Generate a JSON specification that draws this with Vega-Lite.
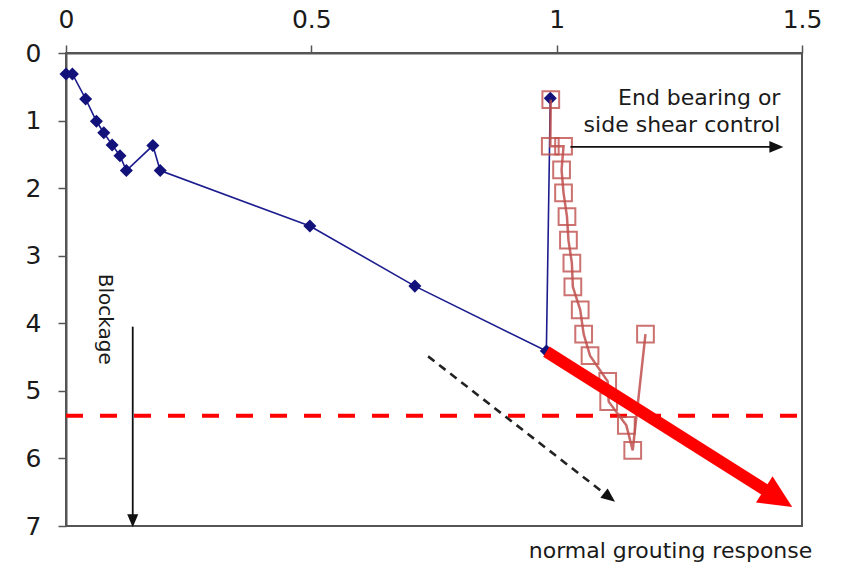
{
  "$schema": "https://vega.github.io/schema/vega-lite/v6.json",
  "width": 736,
  "height": 473,
  "padding": {"left": 66, "top": 53, "right": 39, "bottom": 37},
  "autosize": {"type": "none"},
  "background": "white",
  "config": {
    "view": {"stroke": "#555555", "strokeWidth": 2},
    "text": {"font": "DejaVu Sans", "color": "#1a1a1a"}
  },
  "encoding": {
    "x": {"field": "x", "type": "quantitative", "scale": {"domain": [0, 1.5], "nice": false, "zero": false}, "axis": {"orient": "top", "values": [0, 0.5, 1, 1.5], "format": ".1~f", "title": null, "grid": false, "domainColor": "#555555", "domainWidth": 2, "tickColor": "#555555", "tickWidth": 1.5, "tickSize": 8, "labelFont": "DejaVu Sans", "labelFontSize": 25, "labelColor": "#1a1a1a", "labelPadding": 13, "labelFlush": false}},
    "y": {"field": "y", "type": "quantitative", "scale": {"domain": [0, 7], "reverse": true, "nice": false, "zero": false}, "axis": {"orient": "left", "values": [0, 1, 2, 3, 4, 5, 6, 7], "title": null, "grid": false, "domainColor": "#555555", "domainWidth": 2, "tickColor": "#555555", "tickWidth": 1.5, "tickSize": 8, "labelFont": "DejaVu Sans", "labelFontSize": 25, "labelColor": "#1a1a1a", "labelPadding": 17, "labelFlush": false}}
  },
  "layer": [
    {
      "data": {"values": [{"x": 0, "x2": 1.5, "y": 5.37}]},
      "mark": {"type": "rule", "color": "#ff0000", "strokeWidth": 4, "strokeDash": [17, 17]},
      "encoding": {"x2": {"field": "x2"}}
    },
    {
      "data": {"values": [
        {"order": 1, "x": 0.0, "y": 0.31},
        {"order": 2, "x": 0.013, "y": 0.31},
        {"order": 3, "x": 0.04, "y": 0.68},
        {"order": 4, "x": 0.062, "y": 1.01},
        {"order": 5, "x": 0.077, "y": 1.18},
        {"order": 6, "x": 0.094, "y": 1.36},
        {"order": 7, "x": 0.11, "y": 1.52},
        {"order": 8, "x": 0.123, "y": 1.74},
        {"order": 9, "x": 0.177, "y": 1.37},
        {"order": 10, "x": 0.192, "y": 1.74},
        {"order": 11, "x": 0.497, "y": 2.56},
        {"order": 12, "x": 0.711, "y": 3.45},
        {"order": 13, "x": 0.979, "y": 4.41},
        {"order": 14, "x": 0.987, "y": 0.67}
      ]},
      "layer": [
        {"mark": {"type": "line", "color": "#1c1c8f", "strokeWidth": 1.6}, "encoding": {"order": {"field": "order", "type": "quantitative"}}},
        {"mark": {"type": "point", "shape": "diamond", "filled": true, "size": 170, "color": "#12127a", "opacity": 1}}
      ]
    },
    {
      "data": {"values": [
        {"order": 1, "x": 0.988, "y": 0.69},
        {"order": 2, "x": 0.987, "y": 1.38},
        {"order": 3, "x": 1.014, "y": 1.38},
        {"order": 4, "x": 1.01, "y": 1.73},
        {"order": 5, "x": 1.014, "y": 2.07},
        {"order": 6, "x": 1.021, "y": 2.42},
        {"order": 7, "x": 1.024, "y": 2.77},
        {"order": 8, "x": 1.031, "y": 3.11},
        {"order": 9, "x": 1.033, "y": 3.46},
        {"order": 10, "x": 1.048, "y": 3.8},
        {"order": 11, "x": 1.055, "y": 4.16},
        {"order": 12, "x": 1.068, "y": 4.48},
        {"order": 13, "x": 1.104, "y": 4.86},
        {"order": 14, "x": 1.106, "y": 5.16},
        {"order": 15, "x": 1.142, "y": 5.51},
        {"order": 16, "x": 1.155, "y": 5.88},
        {"order": 17, "x": 1.181, "y": 4.16}
      ]},
      "layer": [
        {"mark": {"type": "line", "color": "#c0504d", "strokeWidth": 2.5, "opacity": 0.85}, "encoding": {"order": {"field": "order", "type": "quantitative"}}},
        {"mark": {"type": "point", "shape": "square", "filled": false, "size": 280, "strokeWidth": 2, "color": "#c0504d", "opacity": 0.8}}
      ]
    },
    {
      "data": {"values": [{"x": 1.028, "y": 1.39, "x2": 1.45, "y2": 1.39}]},
      "mark": {"type": "rule", "color": "#111111", "strokeWidth": 1.8},
      "encoding": {"x2": {"field": "x2"}, "y2": {"field": "y2"}}
    },
    {
      "data": {"values": [{"x": 1.462, "y": 1.39}]},
      "mark": {"type": "point", "shape": "M0,0L-0.85,2L0.85,2Z", "angle": 90, "size": 196, "filled": true, "color": "#111111", "opacity": 1}
    },
    {
      "data": {"values": [{"x": 0.136, "y": 4.05, "x2": 0.136, "y2": 6.85}]},
      "mark": {"type": "rule", "color": "#111111", "strokeWidth": 1.8},
      "encoding": {"x2": {"field": "x2"}, "y2": {"field": "y2"}}
    },
    {
      "data": {"values": [{"x": 0.136, "y": 7.02}]},
      "mark": {"type": "point", "shape": "M0,0L-0.85,2L0.85,2Z", "angle": 180, "size": 169, "filled": true, "color": "#111111", "opacity": 1}
    },
    {
      "data": {"values": [{"x": 0.738, "y": 4.49, "x2": 1.103, "y2": 6.55}]},
      "mark": {"type": "rule", "color": "#222222", "strokeWidth": 2.6, "strokeDash": [8, 6]},
      "encoding": {"x2": {"field": "x2"}, "y2": {"field": "y2"}}
    },
    {
      "data": {"values": [{"x": 1.119, "y": 6.64}]},
      "mark": {"type": "point", "shape": "M0,0L-0.85,2L0.85,2Z", "angle": 127.8, "size": 196, "filled": true, "color": "#111111", "opacity": 1}
    },
    {
      "data": {"values": [{"x": 0.979, "y": 4.42, "x2": 1.4455, "y2": 6.56}]},
      "mark": {"type": "rule", "color": "#ff0000", "strokeWidth": 12},
      "encoding": {"x2": {"field": "x2"}, "y2": {"field": "y2"}}
    },
    {
      "data": {"values": [{"x": 1.48, "y": 6.72}]},
      "mark": {"type": "point", "shape": "M0,0L-0.94,2L0.94,2Z", "angle": 122.2, "size": 1089, "filled": true, "color": "#ff0000", "opacity": 1}
    },
    {
      "data": {"values": [{"x": 1.456, "y": 0.66, "label": "End bearing or"}, {"x": 1.456, "y": 1.06, "label": "side shear control"}]},
      "mark": {"type": "text", "align": "right", "baseline": "middle", "fontSize": 22},
      "encoding": {"text": {"field": "label"}}
    },
    {
      "data": {"values": [{"x": 0.0786, "y": 3.94, "label": "Blockage"}]},
      "mark": {"type": "text", "align": "center", "baseline": "middle", "angle": 90, "fontSize": 20},
      "encoding": {"text": {"field": "label"}}
    },
    {
      "data": {"values": [{"x": 1.521, "y": 7.47, "label": "normal grouting response"}]},
      "mark": {"type": "text", "align": "right", "baseline": "alphabetic", "fontSize": 22},
      "encoding": {"text": {"field": "label"}}
    }
  ]
}
